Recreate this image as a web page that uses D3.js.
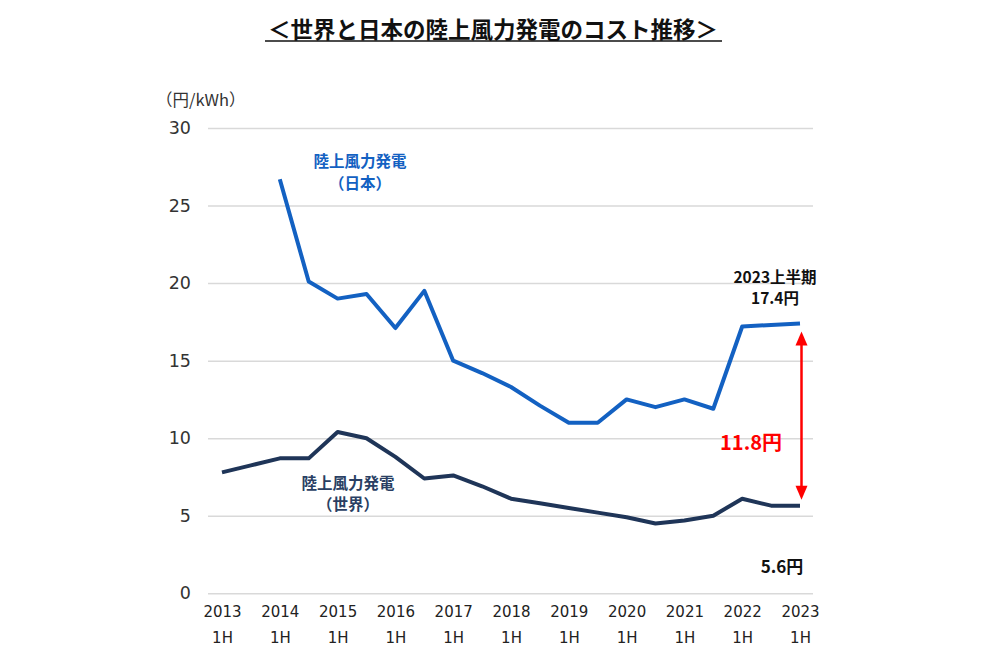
<!DOCTYPE html>
<html><head><meta charset="utf-8">
<script src="https://cdn.jsdelivr.net/npm/d3@7"></script>
<style>
html,body{margin:0;padding:0;background:#fff;}
svg{display:block;}
text{font-family:"DejaVu Sans","Noto Sans CJK JP",sans-serif;}
.jp{font-family:"Noto Sans CJK JP","DejaVu Sans",sans-serif;}
</style></head>
<body>
<svg id="c" width="1000" height="671"></svg>
<script>
const periods = ["2013 1H","2013 2H","2014 1H","2014 2H","2015 1H","2015 2H","2016 1H","2016 2H","2017 1H","2017 2H","2018 1H","2018 2H","2019 1H","2019 2H","2020 1H","2020 2H","2021 1H","2021 2H","2022 1H","2022 2H","2023 1H"];
const japan = [null,null,26.7,20.1,19.0,19.3,17.1,19.5,15.0,14.2,13.3,12.1,11.0,11.0,12.5,12.0,12.5,11.9,17.2,17.3,17.4];
const world = [7.8,8.25,8.7,8.7,10.4,10.0,8.8,7.4,7.6,6.9,6.1,5.8,5.5,5.2,4.9,4.5,4.7,5.0,6.1,5.65,5.65];
const yTicks = [0,5,10,15,20,25,30];

const svg = d3.select("#c");
const x = d3.scaleLinear().domain([0, periods.length-1]).range([222, 800]);
const y = d3.scaleLinear().domain([0,30]).range([593.3,128]);

// title
svg.append("text").attr("class","jp").attr("x",493).attr("y",38)
  .attr("text-anchor","middle").attr("font-size",22.5).attr("font-weight","bold").attr("fill","#111")
  .text("＜世界と日本の陸上風力発電のコスト推移＞");
svg.append("line").attr("x1",265).attr("x2",722).attr("y1",41).attr("y2",41)
  .attr("stroke","#111").attr("stroke-width",1.6);

// grid
const yAxis = d3.axisLeft(y).tickValues(yTicks).tickSize(-(813-208)).tickPadding(18);
const gy = svg.append("g").attr("transform","translate(208,0)").call(yAxis);
gy.select(".domain").remove();
gy.selectAll(".tick line").attr("stroke","#d9d9d9").attr("stroke-width",1.5);
gy.selectAll(".tick text").attr("font-size",17.5).attr("fill","#333").attr("x",-17)
  .style("font-family","DejaVu Sans, sans-serif");

svg.append("text").attr("class","jp").attr("x",156).attr("y",106).attr("font-size",16.5).attr("fill","#333")
  .text("（円/kWh）");

// x axis labels
const xAxis = d3.axisBottom(x).tickValues(d3.range(0,periods.length,2)).tickSize(0)
  .tickFormat(i => periods[i].split(" ")[0]);
const gx = svg.append("g").attr("transform","translate(0,600)").call(xAxis);
gx.select(".domain").remove();
gx.selectAll(".tick text").attr("font-size",15).attr("fill","#222").attr("dy","0.9em")
  .style("font-family","DejaVu Sans, sans-serif")
  .each(function(i){
    d3.select(this).append("tspan").attr("x",0).attr("dy","1.75em").text(periods[i].split(" ")[1]);
  });

// lines
const line = d3.line().defined(d => d != null).x((d,i)=>x(i)).y(d=>y(d));
svg.append("path").datum(world).attr("d",line).attr("fill","none")
  .attr("stroke","#1f3558").attr("stroke-width",4).attr("stroke-linejoin","round");
svg.append("path").datum(japan).attr("d",line).attr("fill","none")
  .attr("stroke","#1361c2").attr("stroke-width",4).attr("stroke-linejoin","round");

// series labels
const lab = (tx, ty, s, c) => svg.append("text").attr("class","jp").attr("x",tx).attr("y",ty)
  .attr("text-anchor","middle").attr("font-size",15.5).attr("font-weight","bold").attr("fill",c).text(s);
lab(360,167,"陸上風力発電","#1361c2");
lab(360,189,"（日本）","#1361c2");
lab(348,489,"陸上風力発電","#2a3f63");
lab(348,510,"（世界）","#2a3f63");

// annotations
lab(775,283,"2023上半期","#111").attr("font-size",15.5);
lab(775,304,"17.4円","#111").attr("font-size",15.5);
svg.append("text").attr("class","jp").attr("x",751).attr("y",450).attr("text-anchor","middle")
  .attr("font-size",20).attr("font-weight","bold").attr("fill","#ff0000").text("11.8円");
svg.append("text").attr("class","jp").attr("x",782).attr("y",573).attr("text-anchor","middle")
  .attr("font-size",17).attr("font-weight","bold").attr("fill","#111").text("5.6円");

// double arrow
const ax = x(periods.length-1)+1.5;
const yTop = y(japan[japan.length-1])+8, yBot = y(world[world.length-1])-6;
svg.append("line").attr("x1",ax).attr("x2",ax).attr("y1",yTop+12).attr("y2",yBot-12)
  .attr("stroke","#ff0000").attr("stroke-width",2.5);
svg.append("path").attr("d",`M${ax},${yTop} L${ax-6},${yTop+14} L${ax+6},${yTop+14} Z`).attr("fill","#ff0000");
svg.append("path").attr("d",`M${ax},${yBot} L${ax-6},${yBot-14} L${ax+6},${yBot-14} Z`).attr("fill","#ff0000");
</script>
</body></html>
